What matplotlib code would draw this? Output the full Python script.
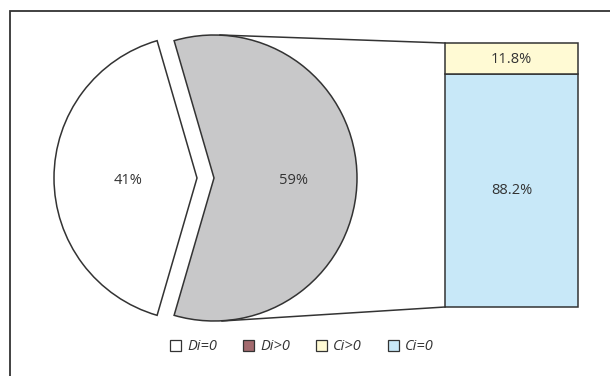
import matplotlib
matplotlib.use('Agg')
import matplotlib.pyplot as plt
from matplotlib.patches import Patch, Rectangle

plt.rcParams['font.family'] = ['Open Sans', 'DejaVu Sans']

pie_labels = ['Di=0', 'Di>0']
pie_values = [41, 59]
pie_colors = ['white', '#c8c8c9']

bar_labels = ['Ci=0', 'Ci>0']
bar_values = [88.2, 11.8]
bar_colors = ['#c8e8f8', '#fffad4']

legend_labels = ['Di=0', 'Di>0', 'Ci>0', 'Ci=0']
legend_colors = ['white', '#a36a6e', '#fffad4', '#c8e8f8']

fig = plt.figure(figsize=(6.1, 3.76), dpi=100)
ax = fig.add_axes([0, 0, 1, 1])

# frame (only top and left visible in the original)
ax.add_patch(Rectangle((10, -20), 640, 385, fill=False, ec='#333333', lw=1.3))

# pie, grey slice centred on the right
cx, cy, r = 210, 198, 143
start = 360 * pie_values[1] / 100 / 2
ax.pie(pie_values, colors=pie_colors, startangle=start, center=(cx, cy),
       radius=r, explode=[13, 4], frame=True,
       wedgeprops=dict(edgecolor='#333333', linewidth=1.1))
ax.set_xlim(0, 610)
ax.set_ylim(0, 376)
ax.set_aspect('auto')
ax.axis('off')
ax.text(128, 196, f'{pie_values[0]}%', ha='center', va='center', fontsize=10.5, color='#333333')
ax.text(294, 196, f'{pie_values[1]}%', ha='center', va='center', fontsize=10.5, color='#333333')

# bar
bx, bw = 445, 133
total_h = 264
bottom = 69
for lab, val, col in zip(bar_labels, bar_values, bar_colors):
    h = total_h * val / 100
    ax.bar(bx, h, width=bw, bottom=bottom, align='edge', color=col,
           edgecolor='#333333', linewidth=1.1)
    ax.text(bx + bw / 2, bottom + h / 2 + (0 if val > 50 else -1), f'{val}%', ha='center', va='center',
            fontsize=10.5, color='#333333')
    bottom += h

# connecting lines
ax.plot([cx + 10, bx], [cy + r, 69 + total_h], color='#333333', lw=1.1)
ax.plot([cx + 12, bx], [cy - r, 69], color='#333333', lw=1.1)

handles = [Patch(facecolor=c, edgecolor='#333333', linewidth=0.9) for c in legend_colors]
leg = ax.legend(handles, legend_labels, ncol=4, loc='center', bbox_to_anchor=(302 / 610, 29 / 376),
                frameon=False, handlelength=0.75, handleheight=0.75, handletextpad=0.45,
                columnspacing=1.75, prop=dict(size=10.5, style='italic'))
for t in leg.get_texts():
    t.set_color('#333333')

fig.savefig('out.png', dpi=100)
